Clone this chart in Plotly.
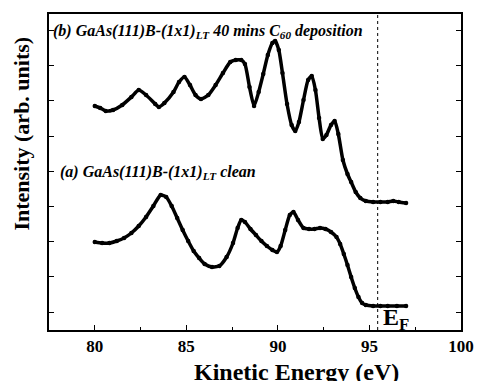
import plotly.graph_objects as go

# Curve (b): GaAs(111)B-(1x1)LT after 40 mins C60 deposition
energy_b = [80.0, 80.3, 80.6, 81.0, 81.5, 82.0, 82.4, 82.8, 83.3, 83.5, 83.8, 84.3, 84.6, 84.9,
            85.2, 85.5, 85.8, 86.2, 86.6, 87.0, 87.4, 87.7, 88.0, 88.2, 88.45, 88.7, 88.95,
            89.2, 89.45, 89.7, 89.85, 90.05, 90.25, 90.5, 90.75, 90.95, 91.15, 91.4, 91.65,
            91.85, 92.05, 92.25, 92.45, 92.65, 92.9, 93.1, 93.3, 93.55, 93.8, 94.0, 94.25,
            94.5, 94.8, 95.2, 95.6, 96.0, 96.3, 96.6, 97.0]
intensity_b = [224, 222, 219, 220, 225, 233, 240, 235, 226, 223, 227, 238, 248, 253,
               245, 235, 231, 235, 245, 257, 268, 270, 270, 266, 243, 224, 238,
               256, 275, 287, 289, 280, 257, 226, 205, 199, 208, 230, 250,
               254, 240, 212, 191, 195, 205, 209, 196, 170, 156, 148, 138,
               132, 129, 128, 128, 128, 129, 128, 127]

# Curve (a): clean GaAs(111)B-(1x1)LT
energy_a = [80.0, 80.4, 80.8, 81.2, 81.6, 82.0, 82.4, 82.8, 83.2, 83.6, 83.9, 84.2, 84.5, 84.8,
            85.1, 85.4, 85.7, 86.0, 86.4, 86.8, 87.2, 87.55, 87.8, 88.0, 88.2, 88.5, 88.8,
            89.1, 89.4, 89.7, 89.95, 90.15, 90.4, 90.65, 90.85, 91.1, 91.4, 91.7, 92.0,
            92.3, 92.6, 92.9, 93.2, 93.4, 93.6, 93.8, 94.0, 94.2, 94.4, 94.6, 94.8, 95.2,
            95.6, 96.0, 96.5, 97.0]
intensity_a = [88, 87, 87, 89, 92, 97, 104, 113, 124, 135, 133, 124, 112, 100,
               89, 79, 72, 66, 63, 64, 73, 87, 102, 110, 108, 101, 95,
               89, 84, 80, 78, 84, 100, 115, 118, 110, 102, 101, 101,
               102, 101, 98, 93, 86, 76, 65, 53, 42, 33, 27, 25, 24,
               24, 24, 24, 24]

fermi_energy = 95.45
x_ticks = [80, 85, 90, 95, 100]

font_family = "Liberation Serif"

fig = go.Figure()
for ex, iy in [(energy_b, intensity_b), (energy_a, intensity_a)]:
    fig.add_trace(go.Scatter(
        x=ex, y=iy, mode="lines+markers",
        line=dict(color="black", width=3.5, shape="spline", smoothing=0.6),
        marker=dict(color="black", size=4.5),
        showlegend=False, hoverinfo="skip"))

fig.add_shape(type="line", x0=fermi_energy, x1=fermi_energy, y0=0, y1=1,
              xref="x", yref="paper", line=dict(color="black", width=1, dash="dot"))

ann_font = dict(family=font_family, size=16, color="black", weight="bold", style="italic")
fig.add_annotation(x=0.005, y=299, xref="paper", yref="y", xanchor="left", yanchor="middle",
                   text="(b) GaAs(111)B-(1x1)<sub>LT</sub> 40 mins C<sub>60</sub> deposition",
                   showarrow=False, font=ann_font)
fig.add_annotation(x=0.022, y=158, xref="paper", yref="y", xanchor="left", yanchor="middle",
                   text="(a) GaAs(111)B-(1x1)<sub>LT</sub> clean",
                   showarrow=False, font=ann_font)
fig.add_annotation(x=fermi_energy, y=0, xref="x", yref="y", xanchor="left", yanchor="bottom",
                   xshift=3, yshift=-6,
                   text="E<sub>F</sub>",
                   showarrow=False, font=dict(family=font_family, size=24, color="black", weight="bold"))
fig.add_annotation(x=0.60, y=0, xref="paper", yref="paper", xanchor="center", yanchor="top",
                   yshift=-27, text="Kinetic Energy (eV)",
                   showarrow=False, font=dict(family=font_family, size=24, color="black", weight="bold"))
fig.add_annotation(x=0, y=0.62, xref="paper", yref="paper", xanchor="right", yanchor="middle",
                   xshift=-13, textangle=-90, text="Intensity (arb. units)",
                   showarrow=False, font=dict(family=font_family, size=22, color="black", weight="bold"))

fig.update_xaxes(range=[77.5, 100], tickvals=x_ticks, ticktext=[str(t) for t in x_ticks],
                 ticks="inside", ticklen=5, tickwidth=1, tickcolor="black",
                 minor=dict(dtick=2.5, tick0=77.5, ticks="inside", ticklen=3, tickcolor="black"),
                 showline=True, linecolor="black", linewidth=1.5, mirror=True,
                 showgrid=False, zeroline=False,
                 tickfont=dict(family=font_family, size=17, color="black", weight="bold"))
fig.update_yaxes(range=[0, 316], tick0=18, dtick=35.2, showticklabels=False,
                 ticks="inside", ticklen=5, tickwidth=1, tickcolor="black",
                 showline=True, linecolor="black", linewidth=1.5, mirror="ticks",
                 showgrid=False, zeroline=False)

fig.update_layout(width=486, height=381, margin=dict(l=49, r=19, t=14, b=51),
                  paper_bgcolor="white", plot_bgcolor="white")

fig.write_html("out.html")
